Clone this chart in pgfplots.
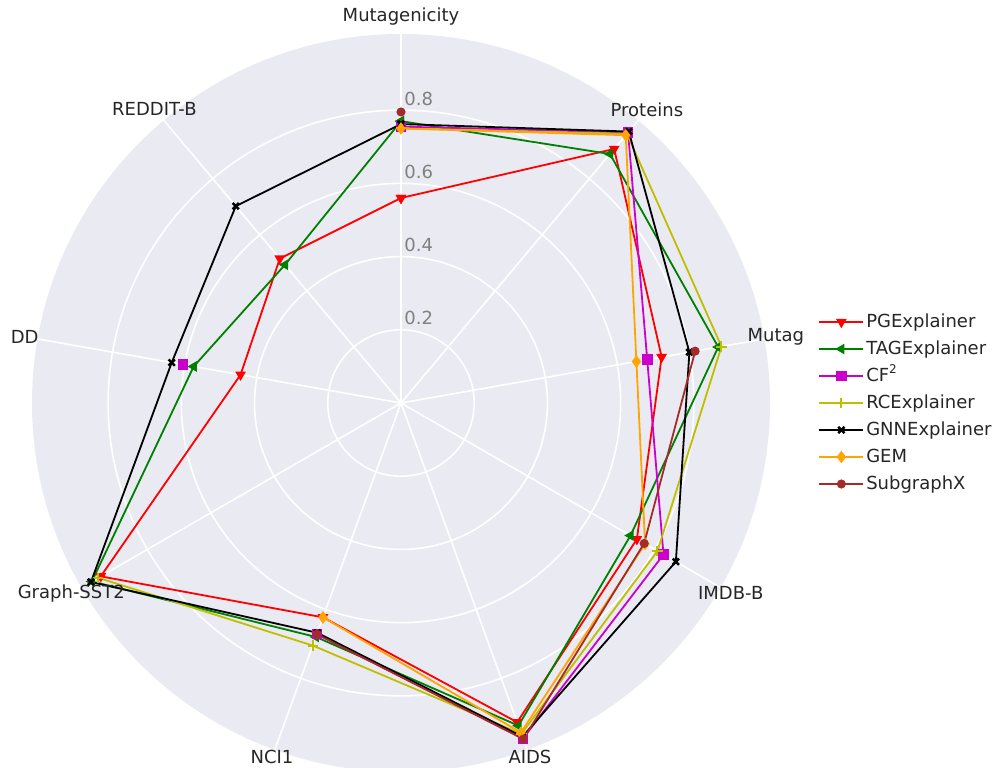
\documentclass[border=0pt]{standalone}
\usepackage{fontspec}
\setmainfont{DejaVu Sans}
\usepackage{pgfplots}
\pgfplotsset{compat=1.18}
\usepgfplotslibrary{polar}
\definecolor{bgc}{HTML}{EAEAF2}
\definecolor{cPG}{HTML}{FF0000}
\definecolor{cTAG}{HTML}{008000}
\definecolor{cCF}{HTML}{CC00CC}
\definecolor{cRC}{HTML}{BFBF00}
\definecolor{cGNN}{HTML}{000000}
\definecolor{cGEM}{HTML}{FFA500}
\definecolor{cSUB}{HTML}{A52A2A}
\definecolor{lbl}{HTML}{262626}
\definecolor{tickc}{HTML}{808080}
\begin{document}
\begin{tikzpicture}[font=\fontsize{9}{11}\selectfont]
\fill[bgc] (0,0) circle (184.5pt);
\begin{polaraxis}[
  at={(0,0)}, anchor=origin,
  scale only axis, width=369pt, height=369pt,
  xmin=0, xmax=360, ymin=0, ymax=1.008,
  xtick={10,50,90,130,170,210,250,290,330},
  xticklabels={,,,,,,,,,},
  ytick={0.2,0.4,0.6,0.8},
  yticklabels={,,,,},
  grid=major,
  major grid style={white, line width=0.8pt},
  axis line style={draw=none},
  major tick style={draw=none},
  clip=false,
  every axis plot/.append style={line width=0.9pt},
  legend cell align=left,
  legend image code/.code={\draw[line width=0.9pt, mark repeat=2,mark phase=2,#1] plot coordinates {(0pt,0pt) (11pt,0pt) (22pt,0pt)};},
  legend style={at={(1.057,0.5)}, anchor=west, draw=none, fill=none,
    text=lbl, font=\fontsize{9}{11}\selectfont,
    nodes={inner sep=1pt, text height=7pt, text depth=2pt},
    row sep=2.5pt},
]
% PGExplainer
\addplot[cPG, mark=triangle*, mark size=2.2pt, mark options={rotate=180}] coordinates {
 (90,0.56) (50,0.906) (10,0.723) (330,0.744) (290,0.928) (250,0.623) (210,0.947) (170,0.445) (130,0.515) (90,0.56)};
\addlegendentry{PGExplainer}
% TAGExplainer
\addplot[cTAG, mark=triangle*, mark size=2.2pt, mark options={rotate=90}] coordinates {
 (90,0.77) (50,0.888) (10,0.88) (330,0.724) (290,0.938) (250,0.68) (210,0.975) (170,0.575) (130,0.493) (90,0.77)};
\addlegendentry{TAGExplainer}
% CF2
\addplot[cCF, mark=square*, mark size=2.2pt] coordinates {
 (90,0.755) (50,0.965) (10,0.683) (330,0.828) (290,0.975) (250,0.672)};
\addlegendentry{CF\textsuperscript{2}}
\addplot[cCF, only marks, mark=square*, mark size=2.2pt, forget plot] coordinates {(170,0.605)};
% RCExplainer
\addplot[cRC, mark=+, mark size=2.6pt, mark options={line width=1pt}] coordinates {
 (90,0.75) (50,0.96) (10,0.889) (330,0.809) (290,0.962) (250,0.705) (210,0.955)};
\addlegendentry{RCExplainer}
% GNNExplainer
\addplot[cGNN, mark=x, mark size=2.2pt, mark options={line width=1.3pt}] coordinates {
 (90,0.762) (50,0.968) (10,0.80) (330,0.867) (290,0.97) (250,0.668) (210,0.978) (170,0.636) (130,0.702) (90,0.762)};
\addlegendentry{GNNExplainer}
% GEM
\addplot[cGEM, mark=diamond*, mark size=2.4pt] coordinates {
 (90,0.75) (50,0.955) (10,0.653) (330,0.77) (290,0.958) (250,0.623)};
\addlegendentry{GEM}
% SubgraphX
\addplot[cSUB, mark=*, mark size=1.8pt] coordinates {
 (10,0.816) (330,0.767) (290,0.977) (250,0.672)};
\addlegendentry{SubgraphX}
\addplot[cSUB, only marks, mark=*, mark size=1.8pt, forget plot] coordinates {(90,0.795)};
% radial tick labels
\foreach \r in {0.2,0.4,0.6,0.8} {
  \edef\temp{\noexpand\node[anchor=base west, text=tickc, inner sep=0pt, xshift=1.5pt, yshift=2.5pt] at (axis cs:90,\r) {\r};}
  \temp
}
% category labels
\node[text=lbl] at (axis cs:90,1.055) {Mutagenicity};
\node[text=lbl] at (axis cs:50,1.045) {Proteins};
\node[text=lbl] at (axis cs:10,1.04) {Mutag};
\node[text=lbl] at (axis cs:330,1.04) {IMDB-B};
\node[text=lbl] at (axis cs:290,1.03) {AIDS};
\node[text=lbl] at (axis cs:250,1.03) {NCI1};
\node[text=lbl] at (axis cs:210,1.04) {Graph-SST2};
\node[text=lbl] at (axis cs:170,1.044) {DD};
\node[text=lbl] at (axis cs:130,1.048) {REDDIT-B};
\end{polaraxis}
\pgfresetboundingbox
\path[use as bounding box] (-200.5pt,-182pt) rectangle (300pt,201.5pt);
\end{tikzpicture}
\end{document}
